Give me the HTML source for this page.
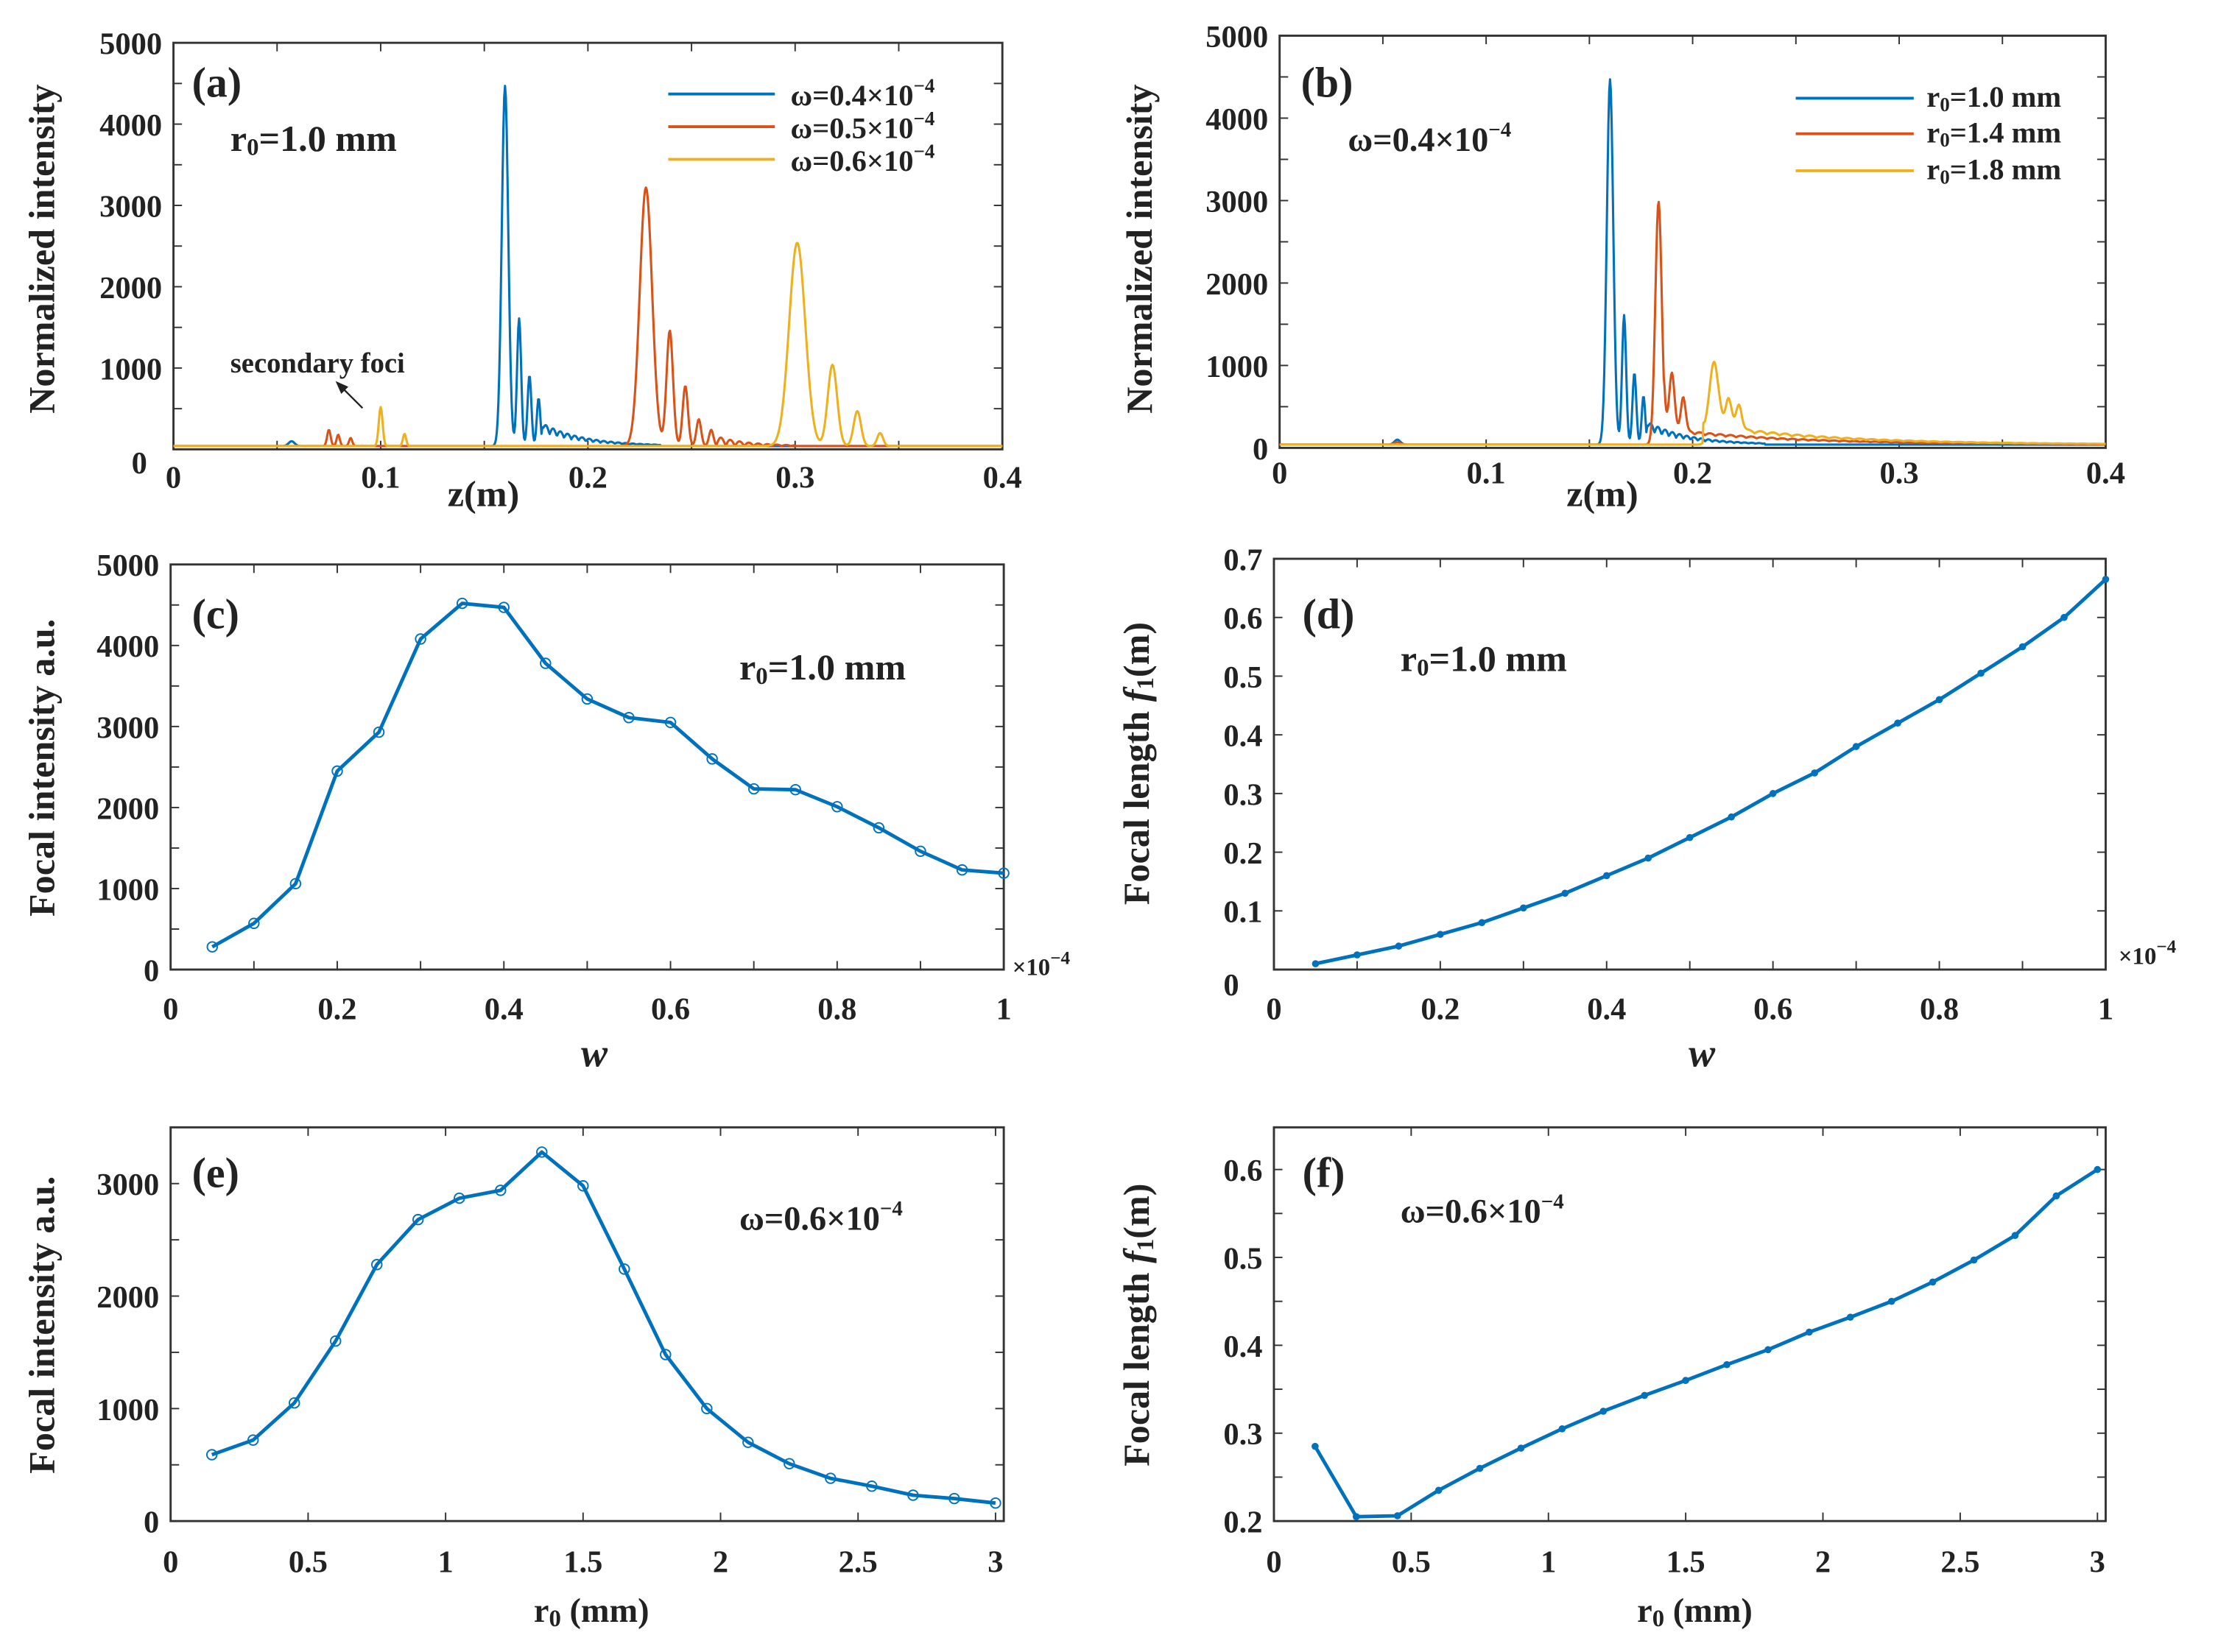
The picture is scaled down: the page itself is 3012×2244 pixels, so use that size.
<!DOCTYPE html>
<html><head><meta charset="utf-8"><style>
html,body{margin:0;padding:0;background:#fff;}
svg{display:block;}
text{font-family:"Liberation Serif",serif;font-weight:bold;fill:#222;}
</style></head><body>
<svg id="s" width="3012" height="2244" viewBox="0 0 1560 1162" xmlns="http://www.w3.org/2000/svg"></svg>
<script>
const S=document.getElementById('s');let out='';
const B='#0072BD',O='#D95319',Y='#EDB120';
function T(x,y,t,sz,anc,extra){out+=`<text x="${x}" y="${y}" font-size="${sz}" text-anchor="${anc||'middle'}" ${extra||''}>${t}</text>`;}
function panel(p){
 const {x0,x1,y0,y1,xmin,xmax,ymin,ymax}=p;
 const X=v=>x0+(v-xmin)/(xmax-xmin)*(x1-x0), Yf=v=>y1-(v-ymin)/(ymax-ymin)*(y1-y0);
 p.X=X;p.Y=Yf;
 out+=`<rect x="${x0}" y="${y0}" width="${x1-x0}" height="${y1-y0}" fill="none" stroke="#333" stroke-width="1.5"/>`;
 for(const v of p.xt){const x=X(v);out+=`<line x1="${x}" y1="${y1}" x2="${x}" y2="${y1-6}" stroke="#333"/><line x1="${x}" y1="${y0}" x2="${x}" y2="${y0+6}" stroke="#333"/>`;}
 for(const v of p.yt){const y=Yf(v);out+=`<line x1="${x0}" y1="${y}" x2="${x0+6}" y2="${y}" stroke="#333"/><line x1="${x1}" y1="${y}" x2="${x1-6}" y2="${y}" stroke="#333"/>`;}
 for(const [v,l] of p.xl)T(X(v),p.xly,l,22);
 for(const [v,l] of p.yl)T(x0-8,Yf(v)+8,l,22,'end');
 return p;
}
function line(p,xs,ys,c,w,mk){
 let d=xs.map((x,i)=>(i?'L':'M')+p.X(x).toFixed(2)+' '+p.Y(ys[i]).toFixed(2)).join('');
 out+=`<path d="${d}" fill="none" stroke="${c}" stroke-width="${w}" stroke-linejoin="round"/>`;
 if(mk==='o')xs.forEach((x,i)=>out+=`<circle cx="${p.X(x)}" cy="${p.Y(ys[i])}" r="3.5" fill="none" stroke="${c}" stroke-width="1"/>`);
 if(mk==='*')xs.forEach((x,i)=>out+=`<circle cx="${p.X(x)}" cy="${p.Y(ys[i])}" r="2.5" fill="${c}"/>`);
}
function curve(peaks,base,tail){
 const xs=[],ys=[];for(let i=0;i<=1000;i++){const z=i*0.0004;let v=base;for(const [c,h,s] of peaks)v+=h*Math.exp(-Math.pow((z-c)/s,2));if(tail)v+=tail(z);xs.push(z);ys.push(v);}return [xs,ys];}
const zt=[0,0.05,0.1,0.15,0.2,0.25,0.3,0.35,0.4];
const it=[0,500,1000,1500,2000,2500,3000,3500,4000,4500,5000];
const ripple=(a,b,h,per)=>z=>(z>a&&z<b)?h*Math.exp(-(z-a)/((b-a)/2.5))*Math.abs(Math.sin((z-a)/per*Math.PI)):0;
const blue=curve([[0.16,4430,0.0022],[0.1668,1570,0.0014],[0.1718,870,0.0013],[0.1762,590,0.0012],[0.057,60,0.002]],40,z=>(z>0.178&&z<0.235)?280*Math.exp(-(z-0.178)/0.02)*(0.6+0.4*Math.abs(Math.sin((z-0.178)/0.0035*Math.PI))):0);
const orange=curve([[0.228,3180,0.0042],[0.2395,1420,0.0022],[0.247,740,0.0018],[0.2535,330,0.0016],[0.2595,200,0.0015],[0.075,200,0.0012],[0.0795,140,0.0011],[0.0855,100,0.0011]],40,ripple(0.262,0.3,120,0.0045));
const yellow=curve([[0.301,2500,0.0055],[0.318,1000,0.0032],[0.330,430,0.0025],[0.341,160,0.002],[0.1,480,0.0013],[0.1115,150,0.0011]],40);
// (a)
let a=panel({x0:122,x1:705,y0:30,y1:316,xmin:0,xmax:0.4,ymin:0,ymax:5000,xt:zt,yt:it,xly:343,
 xl:[[0,'0'],[0.1,'0.1'],[0.2,'0.2'],[0.3,'0.3'],[0.4,'0.4']],yl:[[1000,'1000'],[2000,'2000'],[3000,'3000'],[4000,'4000'],[5000,'5000']]});
T(98,333,'0',22);
line(a,...blue,B,1.6);line(a,...orange,O,1.6);line(a,...yellow,Y,1.6);
T(340,356,'z(m)',26);T(38,175,'Normalized intensity',26,'middle','transform="rotate(-90 38 175)"');
T(135,68,'(a)',30,'start');T(162,106,'r<tspan font-size="17" dy="3">0</tspan><tspan dy="-3">=1.0 mm</tspan>',26,'start');
[[B,66,'0.4'],[O,89,'0.5'],[Y,112,'0.6']].forEach(([c,y,v])=>{out+=`<line x1="470" y1="${y}" x2="545" y2="${y}" stroke="${c}" stroke-width="2"/>`;T(556,y+8,`ω=${v}×10<tspan font-size="14" dy="-9">−4</tspan>`,21,'start');});
T(162,262,'secondary foci',20,'start');
out+=`<line x1="255" y1="287" x2="240" y2="272" stroke="#222" stroke-width="1.2"/><path d="M236 268 L245 272 L240 277Z" fill="#222"/>`;
// (b)
const orange2=curve([[0.1835,2950,0.0022],[0.19,700,0.0018],[0.1955,430,0.0016],[0.057,30,0.002]],40,z=>(z>0.186)?200*Math.exp(-(z-0.186)/0.06)*(0.8+0.2*Math.abs(Math.sin((z-0.186)/0.005*Math.PI))):0);
const yellow2=curve([[0.2105,780,0.003],[0.2175,380,0.002],[0.2225,300,0.002]],40,z=>(z>0.205)?(260*Math.exp(-(z-0.205)/0.06))*(0.8+0.2*Math.abs(Math.sin((z-0.2)/0.006*Math.PI))):0);
let b=panel({x0:900,x1:1481,y0:25,y1:315,xmin:0,xmax:0.4,ymin:0,ymax:5000,xt:zt,yt:it,xly:340,
 xl:[[0,'0'],[0.1,'0.1'],[0.2,'0.2'],[0.3,'0.3'],[0.4,'0.4']],yl:[[0,'0'],[1000,'1000'],[2000,'2000'],[3000,'3000'],[4000,'4000'],[5000,'5000']]});
line(b,...blue,B,1.6);line(b,...orange2,O,1.6);line(b,...yellow2,Y,1.6);
T(1127,356,'z(m)',26);T(810,175,'Normalized intensity',26,'middle','transform="rotate(-90 810 175)"');
T(915,68,'(b)',30,'start');T(948,106,'ω=0.4×10<tspan font-size="15" dy="-10">−4</tspan>',24,'start');
[[B,69,'1.0'],[O,94,'1.4'],[Y,120,'1.8']].forEach(([c,y,v])=>{out+=`<line x1="1263" y1="${y}" x2="1346" y2="${y}" stroke="${c}" stroke-width="2"/>`;T(1355,y+6,`r<tspan font-size="14" dy="3">0</tspan><tspan dy="-3">=${v} mm</tspan>`,21,'start');});
// (c)
const w=[];for(let i=1;i<=20;i++)w.push(i*0.05);
const wt=[0,0.1,0.2,0.3,0.4,0.5,0.6,0.7,0.8,0.9,1];
let c=panel({x0:120,x1:706,y0:397,y1:682,xmin:0,xmax:1,ymin:0,ymax:5000,xt:wt,yt:it,xly:717,
 xl:[[0,'0'],[0.2,'0.2'],[0.4,'0.4'],[0.6,'0.6'],[0.8,'0.8'],[1,'1']],yl:[[0,'0'],[1000,'1000'],[2000,'2000'],[3000,'3000'],[4000,'4000'],[5000,'5000']]});
line(c,w,[280,570,1060,2450,2930,4080,4520,4470,3780,3340,3110,3050,2600,2230,2220,2010,1750,1460,1230,1190],B,2.5,'o');
T(418,750,'w',28,'middle','font-style="italic"');T(38,540,'Focal intensity a.u.',26,'middle','transform="rotate(-90 38 540)"');
T(712,686,'×10<tspan font-size="13" dy="-8">−4</tspan>',17,'start','font-weight="normal"');
T(135,442,'(c)',30,'start');T(520,478,'r<tspan font-size="17" dy="3">0</tspan><tspan dy="-3">=1.0 mm</tspan>',26,'start');
// (d)
let d=panel({x0:896,x1:1481,y0:393,y1:682,xmin:0,xmax:1,ymin:0,ymax:0.7,xt:wt,yt:[0,0.1,0.2,0.3,0.4,0.5,0.6,0.7],xly:717,
 xl:[[0,'0'],[0.2,'0.2'],[0.4,'0.4'],[0.6,'0.6'],[0.8,'0.8'],[1,'1']],yl:[[0.1,'0.1'],[0.2,'0.2'],[0.3,'0.3'],[0.4,'0.4'],[0.5,'0.5'],[0.6,'0.6'],[0.7,'0.7']]});
T(866,700,'0',22);
line(d,w,[0.01,0.025,0.04,0.06,0.08,0.105,0.13,0.16,0.19,0.225,0.26,0.3,0.335,0.38,0.42,0.46,0.505,0.55,0.6,0.665],B,2.5,'*');
T(1197,750,'w',28,'middle','font-style="italic"');
T(808,537,'Focal length <tspan font-style="italic">f</tspan><tspan font-size="17" dy="3">1</tspan><tspan dy="-3">(m)</tspan>',26,'middle','transform="rotate(-90 808 537)"');
T(1490,678,'×10<tspan font-size="13" dy="-8">−4</tspan>',17,'start','font-weight="normal"');
T(916,442,'(d)',30,'start');T(985,472,'r<tspan font-size="17" dy="3">0</tspan><tspan dy="-3">=1.0 mm</tspan>',26,'start');
// (e)
const r=[];for(let i=1;i<=20;i++)r.push(i*0.15);
const rt=[0,0.5,1,1.5,2,2.5,3];const rl=[[0,'0'],[0.5,'0.5'],[1,'1'],[1.5,'1.5'],[2,'2'],[2.5,'2.5'],[3,'3']];
let e=panel({x0:120,x1:706,y0:793,y1:1070,xmin:0,xmax:3.03,ymin:0,ymax:3500,xt:rt,yt:[0,500,1000,1500,2000,2500,3000,3500],xly:1106,
 xl:rl,yl:[[0,'0'],[1000,'1000'],[2000,'2000'],[3000,'3000']]});
line(e,r,[590,720,1050,1600,2280,2680,2870,2940,3280,2980,2240,1480,1000,700,510,380,310,230,200,160],B,2.5,'o');
T(416,1141,'r<tspan font-size="17" dy="3">0</tspan><tspan dy="-3"> (mm)</tspan>',24);
T(38,932,'Focal intensity a.u.',26,'middle','transform="rotate(-90 38 932)"');
T(135,835,'(e)',30,'start');T(520,865,'ω=0.6×10<tspan font-size="15" dy="-10">−4</tspan>',24,'start');
// (f)
let f=panel({x0:896,x1:1481,y0:793,y1:1070,xmin:0,xmax:3.03,ymin:0.2,ymax:0.648,xt:rt,yt:[0.2,0.25,0.3,0.35,0.4,0.45,0.5,0.55,0.6],xly:1106,
 xl:rl,yl:[[0.2,'0.2'],[0.3,'0.3'],[0.4,'0.4'],[0.5,'0.5'],[0.6,'0.6']]});
line(f,r,[0.285,0.205,0.206,0.235,0.26,0.283,0.305,0.325,0.343,0.36,0.378,0.395,0.415,0.432,0.45,0.472,0.497,0.525,0.57,0.60],B,2.5,'*');
T(1192,1141,'r<tspan font-size="17" dy="3">0</tspan><tspan dy="-3"> (mm)</tspan>',24);
T(808,932,'Focal length <tspan font-style="italic">f</tspan><tspan font-size="17" dy="3">1</tspan><tspan dy="-3">(m)</tspan>',26,'middle','transform="rotate(-90 808 932)"');
T(916,835,'(f)',30,'start');T(985,860,'ω=0.6×10<tspan font-size="15" dy="-10">−4</tspan>',24,'start');
S.innerHTML=out;
</script>
</body></html>
